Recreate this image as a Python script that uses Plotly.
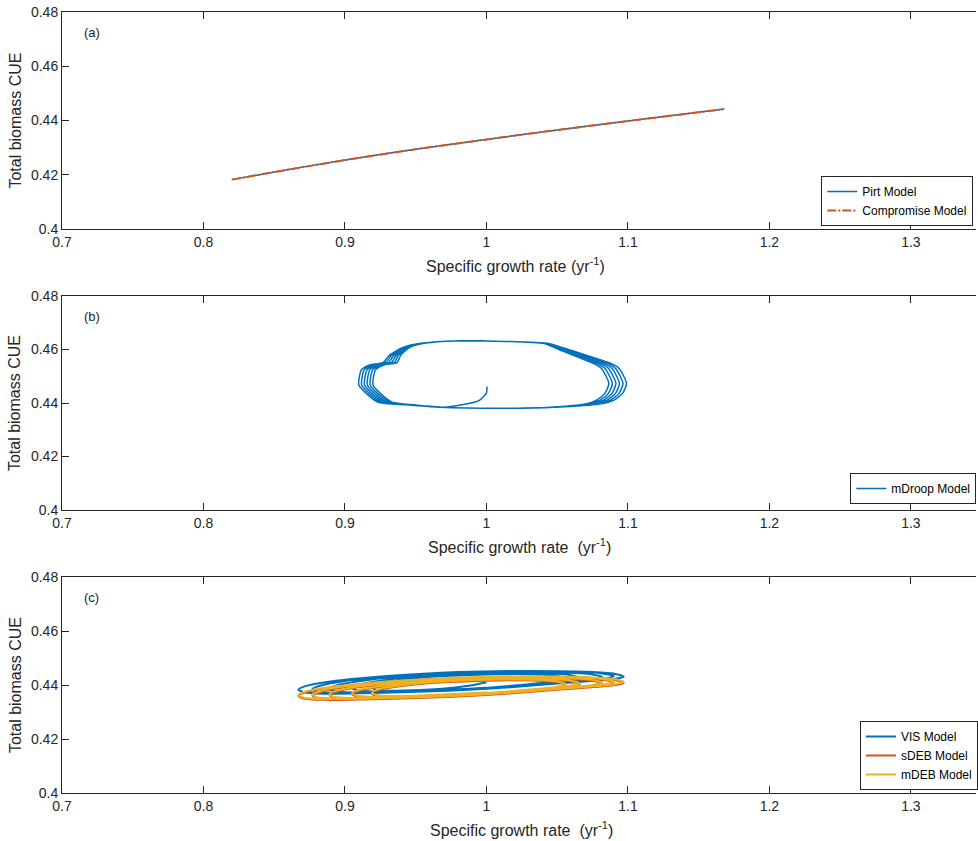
import plotly.graph_objects as go

# ---------------- Data ----------------
x_tick_vals = [0.7, 0.8, 0.9, 1.0, 1.1, 1.2, 1.3]
x_tick_text = ["0.7", "0.8", "0.9", "1", "1.1", "1.2", "1.3"]
y_tick_vals = [0.40, 0.42, 0.44, 0.46, 0.48]
y_tick_text = ["0.4", "0.42", "0.44", "0.46", "0.48"]

# Panel (a)
pirt_x = [0.820, 0.860, 0.900, 0.950, 1.000, 1.050, 1.100, 1.140, 1.168]
pirt_y = [0.4182, 0.4219, 0.4254, 0.4294, 0.4330, 0.4365, 0.4398, 0.4424, 0.4442]
comp_x = [0.820, 0.860, 0.900, 0.950, 1.000, 1.050, 1.100, 1.140, 1.168]
comp_y = [0.4182, 0.4219, 0.4254, 0.4294, 0.4330, 0.4365, 0.4398, 0.4424, 0.4442]

# Panel (b) mDroop: initial transient, then six cycles sharing the y-profile
mdroop_transient_x = [1.0004, 1.0000, 0.9950, 0.9856]
mdroop_transient_y = [0.4462, 0.4438, 0.4410, 0.4396]
mdroop_cycle_y = [0.4384, 0.4393, 0.4403, 0.4436, 0.4467, 0.4523, 0.4542, 0.4551,
                  0.4579, 0.4608, 0.4624, 0.4632, 0.4630, 0.4622, 0.4595, 0.4571,
                  0.4548, 0.4529, 0.4473, 0.4436, 0.4411, 0.4396, 0.4384, 0.4380]
mdroop_cycle_x = [
    [0.9688, 0.9492, 0.9333, 0.9250, 0.9198, 0.9215, 0.9274, 0.9368, 0.9395, 0.9459, 0.9570, 0.9785,
     1.0138, 1.0406, 1.0534, 1.0650, 1.0754, 1.0813, 1.0865, 1.0837, 1.0778, 1.0697, 1.0454, 1.0138],
    [0.9684, 0.9480, 0.9313, 0.9230, 0.9178, 0.9195, 0.9254, 0.9348, 0.9379, 0.9449, 0.9566, 0.9785,
     1.0138, 1.0414, 1.0549, 1.0670, 1.0779, 1.0838, 1.0890, 1.0862, 1.0803, 1.0717, 1.0461, 1.0138],
    [0.9680, 0.9468, 0.9293, 0.9210, 0.9158, 0.9175, 0.9234, 0.9328, 0.9363, 0.9439, 0.9562, 0.9785,
     1.0138, 1.0422, 1.0564, 1.0690, 1.0804, 1.0863, 1.0915, 1.0887, 1.0828, 1.0737, 1.0469, 1.0138],
    [0.9676, 0.9456, 0.9273, 0.9190, 0.9138, 0.9155, 0.9214, 0.9308, 0.9347, 0.9429, 0.9558, 0.9785,
     1.0138, 1.0429, 1.0579, 1.0710, 1.0829, 1.0888, 1.0940, 1.0912, 1.0853, 1.0757, 1.0476, 1.0138],
    [0.9672, 0.9444, 0.9253, 0.9170, 0.9118, 0.9135, 0.9194, 0.9288, 0.9331, 0.9419, 0.9554, 0.9785,
     1.0138, 1.0437, 1.0594, 1.0730, 1.0854, 1.0913, 1.0965, 1.0937, 1.0878, 1.0777, 1.0484, 1.0138],
    [0.9668, 0.9432, 0.9233, 0.9150, 0.9098, 0.9115, 0.9174, 0.9268, 0.9315, 0.9409, 0.9550, 0.9785,
     1.0138, 1.0444, 1.0609, 1.0750, 1.0879, 1.0938, 1.0990, 1.0962, 1.0903, 1.0797, 1.0491, 1.0138],
]

# Panel (c)
vis_x = [1.000, 0.992, 0.978,
         0.960, 0.932, 0.922, 0.919, 0.923, 0.940, 0.970, 1.010, 1.040, 1.052, 1.056, 1.050, 1.030,
         1.000, 0.960, 0.920, 0.908, 0.905, 0.910, 0.928, 0.960, 1.000, 1.040, 1.060, 1.066, 1.060, 1.040,
         1.000, 0.950, 0.905, 0.892, 0.889, 0.895, 0.915, 0.950, 1.000, 1.050, 1.075, 1.082, 1.075, 1.050,
         1.000, 0.950, 0.895, 0.880, 0.877, 0.883, 0.900, 0.940, 0.990, 1.040, 1.078, 1.090, 1.084, 1.060,
         1.000, 0.940, 0.885, 0.871, 0.867, 0.872, 0.890, 0.930, 0.980, 1.030, 1.075, 1.092, 1.097, 1.090, 1.060, 1.000]
vis_y = [0.4410, 0.4401, 0.4391,
         0.4383, 0.4379, 0.4383, 0.4392, 0.4403, 0.4419, 0.4433, 0.4440, 0.4438, 0.4431, 0.4423, 0.4414, 0.4403,
         0.4390, 0.4381, 0.4376, 0.4381, 0.4390, 0.4402, 0.4418, 0.4434, 0.4443, 0.4444, 0.4436, 0.4426, 0.4418, 0.4407,
         0.4389, 0.4377, 0.4372, 0.4377, 0.4387, 0.4400, 0.4418, 0.4435, 0.4446, 0.4447, 0.4439, 0.4429, 0.4420, 0.4408,
         0.4387, 0.4375, 0.4370, 0.4375, 0.4385, 0.4398, 0.4415, 0.4434, 0.4447, 0.4450, 0.4445, 0.4433, 0.4423, 0.4410,
         0.4386, 0.4373, 0.4368, 0.4373, 0.4383, 0.4396, 0.4413, 0.4433, 0.4448, 0.4452, 0.4448, 0.4440, 0.4431, 0.4422, 0.4409, 0.4387]

sdeb_x = [1.000, 0.960, 0.932, 0.922, 0.919, 0.923, 0.940, 0.970, 1.010, 1.040, 1.052, 1.056, 1.050, 1.030,
          1.000, 0.960, 0.920, 0.908, 0.905, 0.910, 0.928, 0.960, 1.000, 1.040, 1.060, 1.066, 1.060, 1.040,
          1.000, 0.950, 0.905, 0.892, 0.889, 0.895, 0.915, 0.950, 1.000, 1.050, 1.075, 1.082, 1.075, 1.050,
          1.000, 0.950, 0.895, 0.880, 0.877, 0.883, 0.900, 0.940, 0.990, 1.040, 1.078, 1.090, 1.084, 1.060,
          1.000, 0.940, 0.885, 0.871, 0.867, 0.872, 0.890, 0.930, 0.980, 1.030, 1.075, 1.092, 1.097, 1.090, 1.060, 1.000]
sdeb_y = [0.4369, 0.4360, 0.4356, 0.4360, 0.4369, 0.4380, 0.4396, 0.4410, 0.4417, 0.4415, 0.4408, 0.4400, 0.4391, 0.4380,
          0.4367, 0.4358, 0.4353, 0.4358, 0.4367, 0.4379, 0.4395, 0.4411, 0.4420, 0.4421, 0.4413, 0.4403, 0.4395, 0.4384,
          0.4366, 0.4354, 0.4349, 0.4354, 0.4364, 0.4377, 0.4395, 0.4412, 0.4423, 0.4424, 0.4416, 0.4406, 0.4397, 0.4385,
          0.4364, 0.4352, 0.4347, 0.4352, 0.4362, 0.4375, 0.4392, 0.4411, 0.4424, 0.4427, 0.4422, 0.4410, 0.4400, 0.4387,
          0.4363, 0.4350, 0.4345, 0.4350, 0.4360, 0.4373, 0.4390, 0.4410, 0.4425, 0.4429, 0.4425, 0.4417, 0.4408, 0.4399, 0.4386, 0.4364]

mdeb_x = [1.000, 0.960, 0.932, 0.922, 0.919, 0.923, 0.940, 0.970, 1.010, 1.040, 1.052, 1.056, 1.050, 1.030,
          1.000, 0.960, 0.920, 0.908, 0.905, 0.910, 0.928, 0.960, 1.000, 1.040, 1.060, 1.066, 1.060, 1.040,
          1.000, 0.950, 0.905, 0.892, 0.889, 0.895, 0.915, 0.950, 1.000, 1.050, 1.075, 1.082, 1.075, 1.050,
          1.000, 0.950, 0.895, 0.880, 0.877, 0.883, 0.900, 0.940, 0.990, 1.040, 1.078, 1.090, 1.084, 1.060,
          1.000, 0.940, 0.885, 0.871, 0.867, 0.872, 0.890, 0.930, 0.980, 1.030, 1.075, 1.092, 1.097, 1.090, 1.060, 1.000]
mdeb_y = [0.4372, 0.4363, 0.4359, 0.4363, 0.4372, 0.4383, 0.4399, 0.4413, 0.4420, 0.4418, 0.4411, 0.4403, 0.4394, 0.4383,
          0.4370, 0.4361, 0.4356, 0.4361, 0.4370, 0.4382, 0.4398, 0.4414, 0.4423, 0.4424, 0.4416, 0.4406, 0.4398, 0.4387,
          0.4369, 0.4357, 0.4352, 0.4357, 0.4367, 0.4380, 0.4398, 0.4415, 0.4426, 0.4427, 0.4419, 0.4409, 0.4400, 0.4388,
          0.4367, 0.4355, 0.4350, 0.4355, 0.4365, 0.4378, 0.4395, 0.4414, 0.4427, 0.4430, 0.4425, 0.4413, 0.4403, 0.4390,
          0.4366, 0.4353, 0.4348, 0.4353, 0.4363, 0.4376, 0.4393, 0.4413, 0.4428, 0.4432, 0.4428, 0.4420, 0.4411, 0.4402, 0.4389, 0.4367]

# ---------------- Styles ----------------
BLUE = "#0072BD"
ORANGE = "#D95319"
YELLOW = "#EDB120"
AX = "#262626"
FONT = "Liberation Sans, Arial, sans-serif"

W, H = 978, 841
PLOT_L, PLOT_T, PLOT_B = 62, 12, 793          # page px of the plotting region
ML = PLOT_L
MT = PLOT_T
MB = H - PLOT_B
MR = 0
PH = H - MT - MB
PW = W - ML - MR


def py2paper(py):
    return (PLOT_B - py) / PH


def px2paper(px):
    return (px - PLOT_L) / PW


panels = [(12, 229), (296, 510), (577, 793)]

fig = go.Figure()

# Panel (a)
fig.add_trace(go.Scatter(x=pirt_x, y=pirt_y, mode="lines", name="Pirt Model",
                         line=dict(color=BLUE, width=1.5, shape="spline"),
                         xaxis="x", yaxis="y", legend="legend"))
fig.add_trace(go.Scatter(x=comp_x, y=comp_y, mode="lines", name="Compromise Model",
                         line=dict(color=ORANGE, width=2, dash="9px,2px,2px,2px", shape="spline"),
                         xaxis="x", yaxis="y", legend="legend"))

# Panel (b)
mx = list(mdroop_transient_x)
my = list(mdroop_transient_y)
for cx in mdroop_cycle_x:
    mx += cx
    my += mdroop_cycle_y
fig.add_trace(go.Scatter(x=mx, y=my, mode="lines", name="mDroop Model",
                         line=dict(color=BLUE, width=1.5, shape="spline", smoothing=0.6),
                         xaxis="x2", yaxis="y2", legend="legend2"))

# Panel (c)
fig.add_trace(go.Scatter(x=vis_x, y=vis_y, mode="lines", name="VIS Model",
                         line=dict(color=BLUE, width=2, shape="spline", smoothing=0.7),
                         xaxis="x3", yaxis="y3", legend="legend3"))
fig.add_trace(go.Scatter(x=sdeb_x, y=sdeb_y, mode="lines", name="sDEB Model",
                         line=dict(color=ORANGE, width=2, shape="spline", smoothing=0.7),
                         xaxis="x3", yaxis="y3", legend="legend3"))
fig.add_trace(go.Scatter(x=mdeb_x, y=mdeb_y, mode="lines", name="mDEB Model",
                         line=dict(color=YELLOW, width=2, shape="spline", smoothing=0.7),
                         xaxis="x3", yaxis="y3", legend="legend3"))

layout = dict(
    width=W, height=H,
    margin=dict(l=ML, r=MR, t=MT, b=MB, pad=0),
    paper_bgcolor="white", plot_bgcolor="white",
    font=dict(family=FONT, color=AX, size=14),
)

axis_common_x = dict(range=[0.7, 1.346], tickvals=x_tick_vals, ticktext=x_tick_text,
                     ticks="inside", ticklen=7, tickcolor=AX, showline=True, linecolor=AX,
                     linewidth=1, mirror="ticks", showgrid=False, zeroline=False,
                     ticklabeloverflow="allow",
                     tickfont=dict(size=14, color=AX, family=FONT))
axis_common_y = dict(range=[0.4, 0.48], tickvals=y_tick_vals, ticktext=y_tick_text,
                     ticks="inside", ticklen=7, tickcolor=AX, showline=True, linecolor=AX,
                     linewidth=1, mirror=False, showgrid=False, zeroline=False,
                     ticklabeloverflow="allow",
                     tickfont=dict(size=14, color=AX, family=FONT))

names = [("xaxis", "yaxis", "y", "x"), ("xaxis2", "yaxis2", "y2", "x2"), ("xaxis3", "yaxis3", "y3", "x3")]
for (xa, ya, yref, xref), (top, bot) in zip(names, panels):
    dom = [py2paper(bot), py2paper(top)]
    layout[xa] = dict(axis_common_x, domain=[0, 1], anchor=yref)
    layout[ya] = dict(axis_common_y, domain=dom, anchor=xref)

legend_common = dict(bgcolor="white", bordercolor=AX, borderwidth=1,
                     font=dict(size=12, color="black", family=FONT),
                     xanchor="left", yanchor="bottom", tracegroupgap=0, itemwidth=30)
layout["legend"] = dict(legend_common, x=px2paper(823), y=py2paper(226))
layout["legend2"] = dict(legend_common, x=px2paper(852), y=py2paper(504))
layout["legend3"] = dict(legend_common, x=px2paper(862), y=py2paper(790))

annotations = []
xtitles = ["Specific growth rate (yr<sup>-1</sup>)",
           "Specific growth rate\u00a0 (yr<sup>-1</sup>)",
           "Specific growth rate\u00a0 (yr<sup>-1</sup>)"]
xt_centers = [516, 521, 523]
labels = ["(a)", "(b)", "(c)"]
for i, (top, bot) in enumerate(panels):
    annotations.append(dict(text=xtitles[i], x=px2paper(xt_centers[i]), y=py2paper(bot + 36),
                            xref="paper", yref="paper", showarrow=False,
                            xanchor="center", yanchor="middle",
                            font=dict(size=16, color=AX, family=FONT)))
    annotations.append(dict(text="Total biomass CUE", x=px2paper(15), y=py2paper((top + bot) / 2),
                            xref="paper", yref="paper", showarrow=False, textangle=-90,
                            xanchor="center", yanchor="middle",
                            font=dict(size=16, color=AX, family=FONT)))
    annotations.append(dict(text=labels[i], x=px2paper(92), y=py2paper(top + 20),
                            xref="paper", yref="paper", showarrow=False,
                            xanchor="center", yanchor="middle",
                            font=dict(size=13, color=AX, family=FONT)))
layout["annotations"] = annotations

fig.update_layout(**layout)
fig.write_html("out.html",
               config={"displayModeBar": False},
               post_script="document.body.style.margin='0px';document.body.style.overflow='hidden';")
